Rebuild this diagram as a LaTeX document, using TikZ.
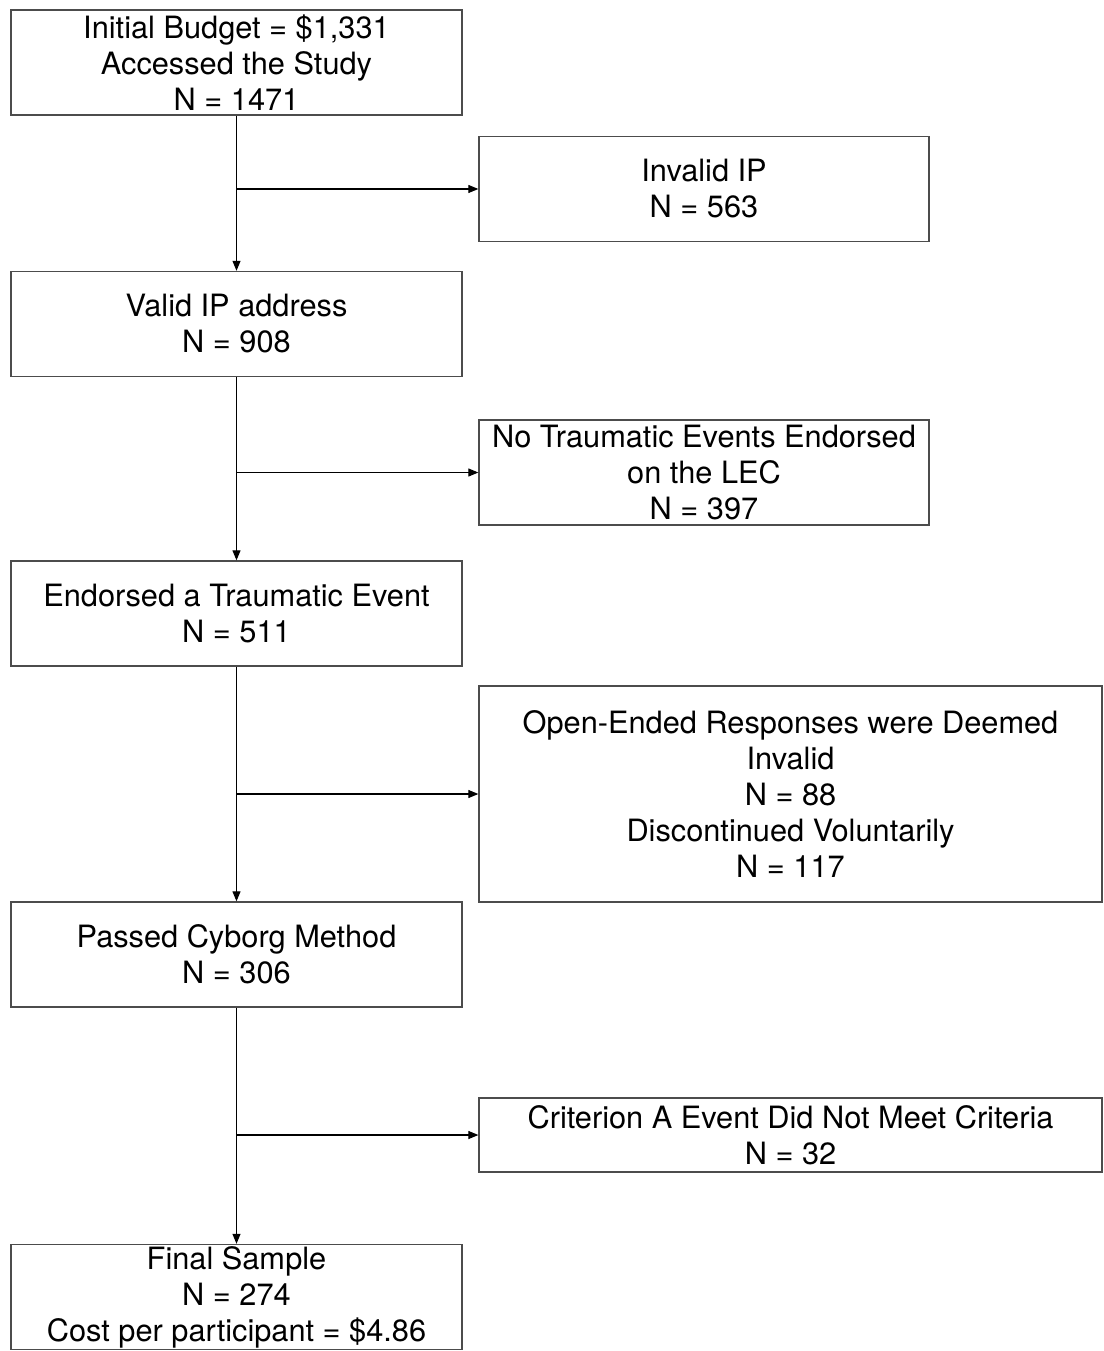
\documentclass[tikz,border=0pt]{standalone}
\usepackage{fontspec}
\setmainfont{TeX Gyre Heros}
\usetikzlibrary{arrows}
\usetikzlibrary{arrows.meta}

\begin{document}
\begin{tikzpicture}[x=0.02cm,y=-0.02cm,
    box/.style={draw=black!70,line width=0.8pt,align=center,inner sep=0pt,
      font=\fontsize{17.5}{20.5}\selectfont},
    leftbox/.style={box,minimum width=9.02cm,minimum height=2.1cm},
    link/.style={line width=0.6pt,-{Triangle[length=0.2cm,width=0.16cm]}}]
    \useasboundingbox (0,0) rectangle (1103,1351);
    % main column
    \node[leftbox] (budget) at (236.5,62.5) {Initial Budget = \$1,331\\Accessed the Study\\N = 1471};
    \node[leftbox] (validip) at (236.5,324) {Valid IP address\\N = 908};
    \node[leftbox] (endorsed) at (236.5,613.5) {Endorsed a Traumatic Event\\N = 511};
    \node[leftbox] (cyborg) at (236.5,954.5) {Passed Cyborg Method\\N = 306};
    \node[leftbox] (final) at (236.5,1297) {Final Sample\\N = 274\\Cost per participant = \$4.86};
    % exclusions
    \node[box,minimum width=9cm,minimum height=2.1cm] (invalidip) at (704,189) {Invalid IP\\N = 563};
    \node[box,minimum width=9cm,minimum height=2.1cm] (notrauma) at (704,472.5) {No Traumatic Events Endorsed\\on the LEC\\N = 397};
    \node[box,minimum width=12.46cm,minimum height=4.32cm] (openended) at (790.5,794) {Open-Ended Responses were Deemed\\Invalid\\N = 88\\Discontinued Voluntarily\\N = 117};
    \node[box,minimum width=12.46cm,minimum height=1.48cm] (criterion) at (790.5,1135) {Criterion A Event Did Not Meet Criteria\\N = 32};

    \foreach \a/\b in {budget/validip, validip/endorsed, endorsed/cyborg, cyborg/final}{
      \draw[link] (\a.south) -- (\b.north);
    }
    \foreach \a/\b in {budget/invalidip, validip/notrauma, endorsed/openended, cyborg/criterion}{
      \draw[link] (\a.south |- \b.west) -- (\b.west);
    }
  \end{tikzpicture}
\end{document}
